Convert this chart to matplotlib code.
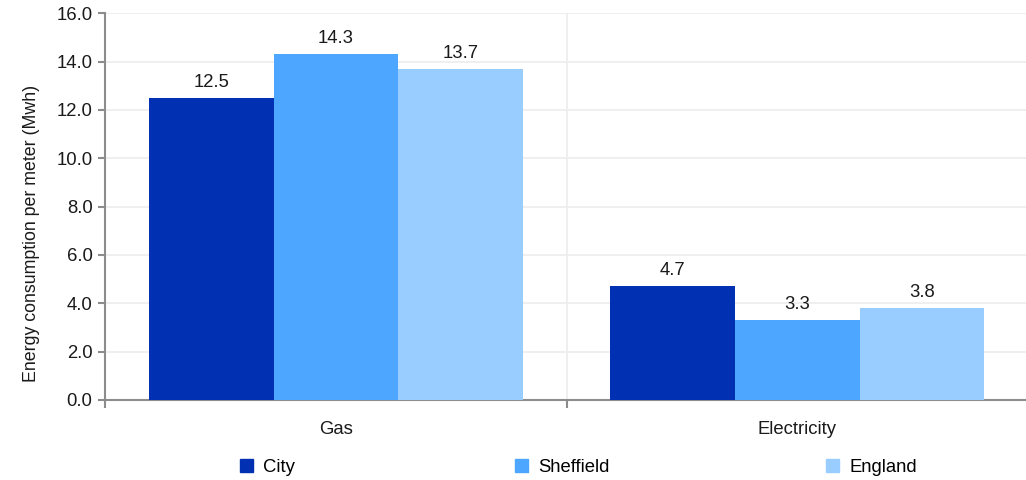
import numpy as np
import matplotlib
matplotlib.use('Agg')
import matplotlib.pyplot as plt
from matplotlib.patches import Patch

plt.rcParams['font.family'] = ['Liberation Sans', 'DejaVu Sans']

# data
categories = ['Gas', 'Electricity']
series = ['City', 'Sheffield', 'England']
city = [12.5, 4.7]
sheffield = [14.3, 3.3]
england = [13.7, 3.8]
colors = ['#0230b2', '#4da6ff', '#99ccff']
yticks = [0, 2, 4, 6, 8, 10, 12, 14, 16]

fig = plt.figure(figsize=(10.26, 4.8), dpi=100)
ax = fig.add_axes([0.1024, 0.1667, 0.8996, 0.8056])

fs = 13.3
x = np.arange(len(categories))
width = 0.27
for i, (vals, name) in enumerate(zip([city, sheffield, england], series)):
    bars = ax.bar(x + (i - 1) * width, vals, width, color=colors[i], label=name, zorder=3)
    ax.bar_label(bars, labels=[f'{v:.1f}' for v in vals], padding=5, fontsize=fs, color='#1a1a1a')

ax.set_xlim(-0.5, len(categories) - 0.5)
ax.set_ylim(0, 16)
ax.set_yticks(yticks)
ax.set_yticklabels([f'{v:.1f}' for v in yticks])
ax.set_xticks(np.arange(len(categories) + 1) - 0.5)
ax.set_xticklabels([])
ax.set_xticks(x, minor=True)
ax.set_xticklabels(categories, minor=True)

ax.tick_params(axis='y', labelsize=fs, length=5, width=1.5, color='#8c8c8c', pad=4, labelcolor='#1a1a1a')
ax.tick_params(axis='x', which='major', length=6, width=1.5, color='#8c8c8c')
ax.tick_params(axis='x', which='minor', length=0, labelsize=fs, pad=15, labelcolor='#1a1a1a')

ax.grid(True, which='major', color='#eeeeee', linewidth=1.3, zorder=0)
ax.set_axisbelow(True)
for s in ['top', 'right']:
    ax.spines[s].set_visible(False)
for s in ['left', 'bottom']:
    ax.spines[s].set_color('#8c8c8c')
    ax.spines[s].set_linewidth(1.5)

ax.set_ylabel('Energy consumption per meter (Mwh)', fontsize=12.8, color='#1a1a1a')
ax.yaxis.set_label_coords(-0.071, 0.43)

# legend entries are spread unevenly, so place each one separately
legend_x = [0.234, 0.502, 0.805]
for name, c, lx in zip(series, colors, legend_x):
    leg = fig.legend(handles=[Patch(color=c)], labels=[name], loc='center left',
                     bbox_to_anchor=(lx, 0.026), frameon=False, fontsize=fs,
                     handlelength=0.7, handleheight=0.7, handletextpad=0.55,
                     borderpad=0, borderaxespad=0)

fig.savefig('out.png', dpi=100)
